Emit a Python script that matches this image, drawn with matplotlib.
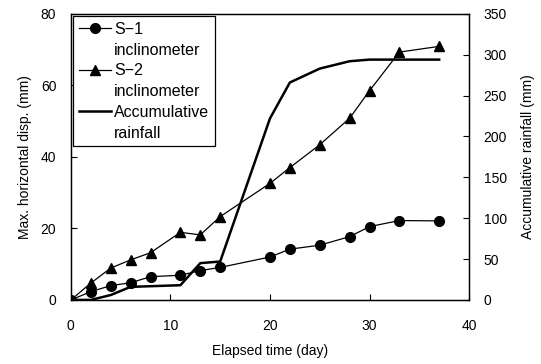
import matplotlib
matplotlib.use('Agg')
import matplotlib.pyplot as plt
from matplotlib.lines import Line2D
import numpy as np

matplotlib.rcParams['font.family'] = 'Liberation Sans'
matplotlib.rcParams['font.size'] = 10

# Inclinometer readings (day, mm)
days = [0, 2, 4, 6, 8, 11, 13, 15, 20, 22, 25, 28, 30, 33, 37]
s1_disp = [0, 2.3, 4.0, 4.8, 6.5, 6.9, 8.2, 9.1, 12.0, 14.2, 15.3, 17.7, 20.5, 22.2, 22.1]
s2_disp = [0, 4.7, 8.9, 11.2, 13.2, 18.9, 18.2, 23.3, 32.6, 37.0, 43.4, 50.8, 58.5, 69.3, 70.9]

# Accumulative rainfall (day, mm)
rain_days = [0, 2, 4, 6, 11, 13, 15, 20, 22, 25, 28, 30, 37]
rainfall = [0, 0, 6, 16, 18, 45, 47, 222, 266, 283, 292, 294, 294]

fig = plt.figure(figsize=(5.41, 3.64), dpi=100)
ax = fig.add_axes([0.131, 0.176, 0.736, 0.786])
ax2 = ax.twinx()

l1, = ax.plot(days, s1_disp, '-o', color='black', linewidth=0.9,
              markersize=7, zorder=3)
l2, = ax.plot(days, s2_disp, '-^', color='black', linewidth=0.9,
              markersize=7, zorder=3)
l3, = ax2.plot(rain_days, rainfall, '-', color='black', linewidth=1.8)

ax.set_xlim(0, 40)
ax.set_ylim(0, 80)
ax2.set_ylim(0, 350)
ax.set_xticks([0, 10, 20, 30, 40])
ax.set_yticks([0, 20, 40, 60, 80])
ax2.set_yticks(np.arange(0, 351, 50))

ax.set_xlabel('Elapsed time (day)', labelpad=8)
ax.set_ylabel('Max. horizontal disp. (mm)', labelpad=6)
ax2.set_ylabel('Accumulative rainfall (mm)', labelpad=10)

for a in (ax, ax2):
    a.tick_params(direction='in', length=4, width=0.8)
    a.tick_params(axis='y', pad=10.5)
    for sp in a.spines.values():
        sp.set_linewidth(0.9)
ax.tick_params(axis='x', pad=14)

# second line of each legend label sits under the first, without a handle
blank = Line2D([], [], linestyle='none')
handles = [l1, blank, l2, blank, l3, blank]
labels = ['S\u22121', 'inclinometer', 'S\u22122', 'inclinometer',
          'Accumulative', 'rainfall']
leg = ax.legend(handles, labels, loc='upper left', fontsize=11.5,
                frameon=True, fancybox=False, edgecolor='black',
                framealpha=1, borderaxespad=0.15, handlelength=2.0,
                handletextpad=0.2, labelspacing=0.36, borderpad=0.35)
leg.get_frame().set_linewidth(0.9)
leg.set_zorder(5)

fig.savefig('out.png', dpi=100, facecolor='white')
